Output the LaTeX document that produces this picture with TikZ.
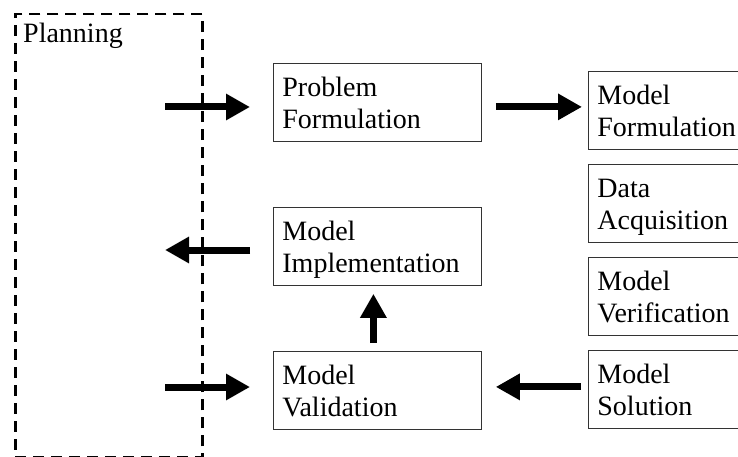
\documentclass[tikz,border=0pt]{standalone}
\usepackage{fontspec}
\setmainfont{Liberation Serif}
\usetikzlibrary{arrows.meta}
\newcommand{\hiline}{\rule{0pt}{26pt}}
\newcommand{\loline}{\rule[-6pt]{0pt}{6pt}}

\begin{document}
\begin{tikzpicture}[x=1pt,y=-1pt, %% one unit = one pixel of the sketch
    stage/.style={draw=black!80, line width=0.8pt, anchor=north west,
        inner xsep=9pt, inner ysep=0pt, text width=#1, align=left,
        minimum height=78pt, font=\fontsize{28}{32}\selectfont},
    bigarrow/.style={line width=7pt, -{Triangle[length=24pt,width=25pt]}}]

            \useasboundingbox (0,0) rectangle (738,457);
            \clip (0,0) rectangle (738,457);

            % planning frame
            \node[draw, dash pattern=on 11pt off 7pt, line width=2.5pt, anchor=north west,
                minimum width=187pt, minimum height=443pt, inner sep=0pt] (plan) at (14,13) {};
            \node[anchor=base west, inner sep=0pt, font=\fontsize{28}{32}\selectfont] (plantitle) at (23,43) {Planning};

            % middle column
            \node[stage=190pt] (prob) at (273,63) {\hiline Problem\\Formulation\loline};
            \node[stage=190pt] (impl) at (273,207) {\hiline Model\\Implementation\loline};
            \node[stage=190pt] (valid) at (273,351) {\hiline Model\\Validation\loline};

            % right column
            \node[stage=142pt] (modf) at (588,71) {\hiline Model\\Formulation\loline};
            \node[stage=142pt] (data) at (588,164) {\hiline Data\\Acquisition\loline};
            \node[stage=142pt] (verif) at (588,257) {\hiline Model\\Verification\loline};
            \node[stage=142pt] (sol) at (588,350) {\hiline Model\\Solution\loline};

            % arrows
            \coordinate (inA) at (165,107);
            \coordinate (outB) at (165,250);
            \coordinate (inC) at (165,387);

            \draw[bigarrow, shorten >=23pt] (inA) -- (inA -| prob.west);
            \draw[bigarrow, shorten <=23pt] (outB -| impl.west) -- (outB);
            \draw[bigarrow, shorten >=23pt] (inC) -- (inC -| valid.west);

            \draw[bigarrow, shorten <=14pt, shorten >=6pt] ([yshift=-4.5pt]prob.east) -- ([yshift=-4.5pt]prob.east -| modf.west);
            \draw[bigarrow, shorten <=7pt, shorten >=14pt] ([yshift=2.5pt]sol.west) -- ([yshift=2.5pt]sol.west -| valid.east);
            \draw[bigarrow, shorten <=8pt, shorten >=8pt] ([xshift=-4pt]valid.north) -- ([xshift=-4pt]impl.south);
\end{tikzpicture}
\end{document}
